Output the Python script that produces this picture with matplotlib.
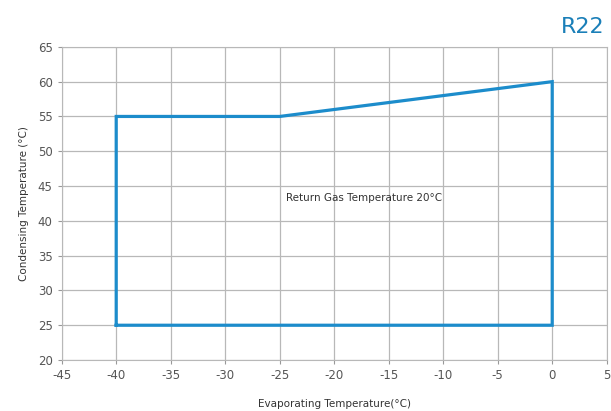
import matplotlib
matplotlib.use("Agg")
import matplotlib.pyplot as plt

plt.rcParams["axes.unicode_minus"] = False

# operating envelope corners (evaporating, condensing)
evap = [-40, -40, -25, 0, 0, -40]
cond = [25, 55, 55, 60, 25, 25]
xticks = [-45, -40, -35, -30, -25, -20, -15, -10, -5, 0, 5]
yticks = [20, 25, 30, 35, 40, 45, 50, 55, 60, 65]

blue = "#1c8ccb"
fig = plt.figure(figsize=(6.11, 4.11), dpi=100)
ax = fig.add_axes([0.101, 0.124, 0.892, 0.762])

ax.plot(evap, cond, color=blue, lw=2.3, solid_joinstyle="miter")
ax.set_xlim(-45, 5)
ax.set_ylim(20, 65)
ax.set_xticks(xticks)
ax.set_yticks(yticks)
ax.grid(True, color="#b8b8b8", lw=0.9)
ax.set_axisbelow(True)
for s in ax.spines.values():
    s.set_color("#b8b8b8")
ax.tick_params(colors="#555555", labelsize=8.5, length=3, color="#999999")

ax.text(-17.3, 43.3, "Return Gas Temperature 20°C", fontsize=7.5,
        color="#333333", ha="center", va="center")
ax.set_xlabel("Evaporating Temperature(°C)", fontsize=7.5, color="#333333", labelpad=12)
ax.set_ylabel("Condensing Temperature (°C)", fontsize=7.5, color="#333333", labelpad=6)
fig.text(0.99, 0.935, "R22", fontsize=16, color="#1a7fb8", ha="right", va="center")

fig.savefig("out.png", dpi=100)
